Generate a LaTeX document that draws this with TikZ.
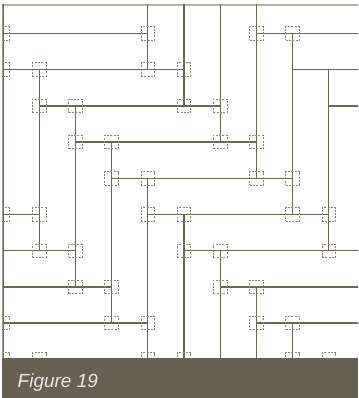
\documentclass[tikz,border=0pt]{standalone}
\usepackage{fontspec}
\newfontfamily\capfont{Liberation Sans}
\definecolor{ln}{HTML}{6C6858}
\definecolor{lnlight}{HTML}{B3B0A4}
\definecolor{bx}{HTML}{8A8676}
\definecolor{bandcol}{HTML}{686050}
\definecolor{captxt}{HTML}{ECEAE4}
\tikzset{
 wire/.style={draw=ln, line width=1.3pt},
 frameline/.style={draw=lnlight, line width=1.2pt},
 dbox/.style={draw=bx, dash pattern=on 2pt off 1.3pt, line width=0.9pt, minimum size=13.5pt, inner sep=0pt, outer sep=0pt},
 captext/.style={anchor=base west, inner sep=0pt, text=captxt, font=\capfont\itshape\fontsize{19}{22}\selectfont},
}
\begin{document}
\begin{tikzpicture}[x=1pt,y=-1pt]
\useasboundingbox (0,0) rectangle (358,398);
\begin{scope}
\clip (2.4,4.4) rectangle (358,358);
\draw[frameline] (2.4,5) -- (358,5);
\begin{scope}[shift={(3,-2.7)}, x=36.2pt, y=-36.2pt]
 % horizontal segments
 \foreach \a/\b/\c in {0/1/4, 7/1/10, 0/2/5, 8/2/10, 1/3/6, 9/3/10, 2/4/7, 3/5/8,
   0/6/1, 4/6/9, 0/7/2, 5/7/10, 0/8/3, 6/8/10, 0/9/4, 7/9/10}
   \draw[wire] (\a,\b) -- (\c,\b);
 % vertical segments
 \foreach \a/\b/\c in {0/0/10, 1/2/7, 2/3/8, 3/4/9, 4/0/2, 4/5/10, 5/0/3, 5/6/10,
   6/0/4, 6/7/10, 7/0/5, 7/8/10, 8/1/6, 8/9/10, 9/2/7}
   \draw[wire] (\a,\b) -- (\a,\c);
 % dashed boxes
 \foreach \i/\j in {0/1,4/1,7/1,8/1,
   0/2,1/2,4/2,5/2,
   1/3,2/3,5/3,6/3,
   2/4,3/4,6/4,7/4,
   3/5,4/5,7/5,8/5,
   0/6,1/6,4/6,5/6,8/6,9/6,
   1/7,2/7,5/7,6/7,9/7,
   2/8,3/8,6/8,7/8,
   0/9,3/9,4/9,7/9,8/9,
   0/10,1/10,4/10,5/10,8/10,9/10}
   \node[dbox] (b-\i-\j) at (\i,\j) {};
\end{scope}
\end{scope}
\fill[fill=bandcol] (2.4,358) rectangle (358,398);
\node[captext] (cap) at (17.5,387.5) {Figure 19};
\end{tikzpicture}
\end{document}
